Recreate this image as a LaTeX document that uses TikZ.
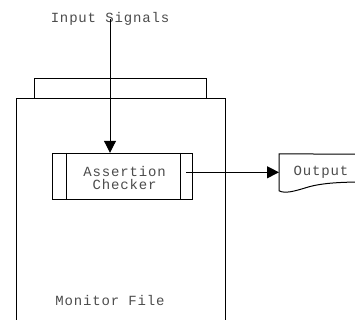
\documentclass[tikz,border=0pt]{standalone}
\usepackage{fontspec}
\setmonofont[LetterSpace=6]{Liberation Mono}
\usetikzlibrary{arrows.meta}
\begin{document}
\begin{tikzpicture}[x=1pt,y=-1pt,
  line width=1pt,
  lbl/.style={font=\ttfamily\fontsize{14}{12.7}\selectfont, text=black!70, inner sep=0pt, align=center},
  frame/.style={draw=black, line width=1pt},
  arr/.style={-{Triangle[length=12pt,width=12pt]}, line width=1pt}]
\useasboundingbox (0,0) rectangle (355,320);
% Monitor file
\draw[frame] (34.7,97.7) -- (34.7,79) -- (206,79) -- (206,97.7);
\node[frame, minimum width=209pt, minimum height=223pt, inner sep=0pt, anchor=north west] (mon) at (16,97.7) {};
\node[lbl] (monl) at (110,300) {Monitor File};
% Assertion checker
\node[frame, fill=white, minimum width=140pt, minimum height=46pt, inner sep=0pt] (ac) at (122.7,176.3) {};
\draw[frame] ([xshift=14.6pt]ac.north west) -- ([xshift=14.6pt]ac.south west);
\draw[frame] ([xshift=-12.7pt]ac.north east) -- ([xshift=-12.7pt]ac.south east);
\node[lbl] (acl) at (124.5,178) {Assertion\\Checker};
% Input
\node[lbl] (in) at (110,19) {Input Signals};
\draw[arr] (in.center) -- (in.center |- ac.north);
% Output
\node[minimum width=83pt, minimum height=36pt, inner sep=0pt, anchor=west] (out) at (279,172.3) {};
\draw[frame] (out.south west) -- (out.north west) -- (365,154.3) -- (365,182)
  .. controls (340,182) and (320,183) .. (305,188)
  .. controls (295,191) and (285,194) .. (out.south west) -- cycle;
\node[lbl] (outl) at (321,172) {Output};
\coordinate (acout) at (186.4,172.3);
\draw[arr] (acout) -- (acout -| out.west);
\end{tikzpicture}
\end{document}
